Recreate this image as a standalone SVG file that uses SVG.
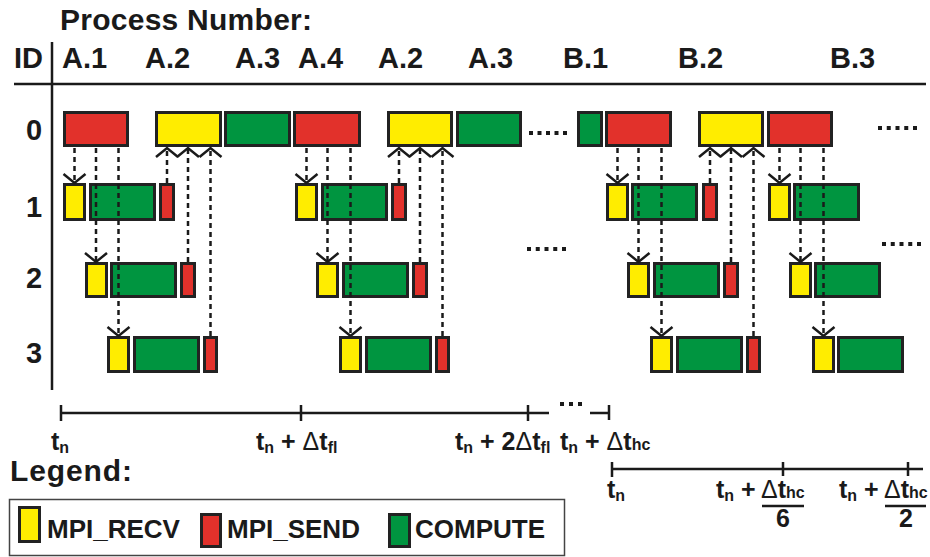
<svg xmlns="http://www.w3.org/2000/svg" width="930" height="557" viewBox="0 0 930 557">
<defs>
<style>
text{font-family:"Liberation Sans",Arial,sans-serif;font-weight:bold;fill:#1a1a1a}
.h{font-size:29px}
.t{font-size:30px}
.lab{font-size:25px}
.sub{font-size:16px}
.d{font-weight:normal}
.leg{font-size:26px}
.box{stroke:#222;stroke-width:3}
.R{fill:#e2312b}.Y{fill:#ffed00}.G{fill:#009540}
.ax{stroke:#1a1a1a;stroke-width:2.5;fill:none}
.dash{stroke:#1a1a1a;stroke-width:2.5;stroke-dasharray:5 4;fill:none;marker-end:url(#chev)}
.dots{stroke:#1a1a1a;stroke-width:4;fill:none}
</style>
<marker id="chev" markerUnits="userSpaceOnUse" markerWidth="14" markerHeight="26" viewBox="-12 -13 14 26" refX="0" refY="0" orient="auto" overflow="visible">
<path d="M-9,-11 L0,0 L-9,11" fill="none" stroke="#1a1a1a" stroke-width="2.5"/>
</marker>
</defs>
<rect width="930" height="557" fill="#ffffff"/>

<g id="header">
<text class="t" x="60" y="30" textLength="252" lengthAdjust="spacing">Process Number:</text>
<text class="h" x="14" y="68">ID</text>
<text class="h" x="62" y="68">A.1</text>
<text class="h" x="145" y="68">A.2</text>
<text class="h" x="235" y="68">A.3</text>
<text class="h" x="298" y="68">A.4</text>
<text class="h" x="378" y="68">A.2</text>
<text class="h" x="468" y="68">A.3</text>
<text class="h" x="563" y="68">B.1</text>
<text class="h" x="678" y="68">B.2</text>
<text class="h" x="830" y="68">B.3</text>
<text class="h" x="26" y="140">0</text>
<text class="h" x="26" y="217">1</text>
<text class="h" x="26" y="288">2</text>
<text class="h" x="26" y="363">3</text>
<line class="ax" x1="52" y1="42" x2="52" y2="390"/>
<line class="ax" x1="14" y1="84" x2="926" y2="84"/>
</g>

<g id="row0">
<g id="r0-A1"><rect class="box R" x="64.5" y="112.5" width="63" height="33"/></g>
<g id="r0-A2"><rect class="box Y" x="156.5" y="112.5" width="64" height="33"/></g>
<g id="r0-A3"><rect class="box G" x="225.5" y="112.5" width="64" height="33"/></g>
<g id="r0-A4"><rect class="box R" x="294.5" y="112.5" width="65" height="33"/></g>
<g id="r0-A2b"><rect class="box Y" x="388.5" y="112.5" width="63" height="33"/></g>
<g id="r0-A3b"><rect class="box G" x="457.5" y="112.5" width="63" height="33"/></g>
<g id="r0-B1"><rect class="box G" x="578.5" y="112.5" width="23" height="33"/></g>
<g id="r0-B1s"><rect class="box R" x="606.5" y="112.5" width="64" height="33"/></g>
<g id="r0-B2"><rect class="box Y" x="699.5" y="112.5" width="63" height="33"/></g>
<g id="r0-B3"><rect class="box R" x="768.5" y="112.5" width="63" height="33"/></g>
</g>

<g id="row1">
<g id="r1-A-recv"><rect class="box Y" x="64.5" y="184.5" width="20" height="35"/></g>
<g id="r1-A-comp"><rect class="box G" x="90.5" y="184.5" width="64" height="35"/></g>
<g id="r1-A-send"><rect class="box R" x="160.5" y="184.5" width="13" height="35"/></g>
<g id="r1-A4-recv"><rect class="box Y" x="296.5" y="184.5" width="20" height="35"/></g>
<g id="r1-A4-comp"><rect class="box G" x="322.5" y="184.5" width="64" height="35"/></g>
<g id="r1-A4-send"><rect class="box R" x="392.5" y="184.5" width="13" height="35"/></g>
<g id="r1-B1-recv"><rect class="box Y" x="607.5" y="184.5" width="20" height="35"/></g>
<g id="r1-B1-comp"><rect class="box G" x="632.5" y="184.5" width="64" height="35"/></g>
<g id="r1-B1-send"><rect class="box R" x="703.5" y="184.5" width="13" height="35"/></g>
<g id="r1-B3-recv"><rect class="box Y" x="769.5" y="184.5" width="20" height="35"/></g>
<g id="r1-B3-comp"><rect class="box G" x="794.5" y="184.5" width="64" height="35"/></g>
</g>

<g id="row2">
<g id="r2-A-recv"><rect class="box Y" x="86.5" y="263.5" width="20" height="33"/></g>
<g id="r2-A-comp"><rect class="box G" x="111.5" y="263.5" width="64" height="33"/></g>
<g id="r2-A-send"><rect class="box R" x="181.5" y="263.5" width="13" height="33"/></g>
<g id="r2-A4-recv"><rect class="box Y" x="317.5" y="263.5" width="20" height="33"/></g>
<g id="r2-A4-comp"><rect class="box G" x="343.5" y="263.5" width="64" height="33"/></g>
<g id="r2-A4-send"><rect class="box R" x="413.5" y="263.5" width="13" height="33"/></g>
<g id="r2-B1-recv"><rect class="box Y" x="628.5" y="263.5" width="20" height="33"/></g>
<g id="r2-B1-comp"><rect class="box G" x="654.5" y="263.5" width="64" height="33"/></g>
<g id="r2-B1-send"><rect class="box R" x="724.5" y="263.5" width="13" height="33"/></g>
<g id="r2-B3-recv"><rect class="box Y" x="790.5" y="263.5" width="20" height="33"/></g>
<g id="r2-B3-comp"><rect class="box G" x="815.5" y="263.5" width="64" height="33"/></g>
</g>

<g id="row3">
<g id="r3-A-recv"><rect class="box Y" x="108.5" y="337.5" width="20" height="34"/></g>
<g id="r3-A-comp"><rect class="box G" x="134.5" y="337.5" width="64" height="34"/></g>
<g id="r3-A-send"><rect class="box R" x="204.5" y="337.5" width="12" height="34"/></g>
<g id="r3-A4-recv"><rect class="box Y" x="340.5" y="337.5" width="20" height="34"/></g>
<g id="r3-A4-comp"><rect class="box G" x="366.5" y="337.5" width="64" height="34"/></g>
<g id="r3-A4-send"><rect class="box R" x="436.5" y="337.5" width="12" height="34"/></g>
<g id="r3-B1-recv"><rect class="box Y" x="651.5" y="337.5" width="20" height="34"/></g>
<g id="r3-B1-comp"><rect class="box G" x="677.5" y="337.5" width="64" height="34"/></g>
<g id="r3-B1-send"><rect class="box R" x="747.5" y="337.5" width="12" height="34"/></g>
<g id="r3-B3-recv"><rect class="box Y" x="813.5" y="337.5" width="20" height="34"/></g>
<g id="r3-B3-comp"><rect class="box G" x="838.5" y="337.5" width="64" height="34"/></g>
</g>

<g id="ellipses">
<line class="dots" x1="529" y1="133" x2="567" y2="133" stroke-dasharray="4 4.5"/>
<line class="dots" x1="878" y1="128" x2="917" y2="128" stroke-dasharray="4 4.75"/>
<line class="dots" x1="527" y1="249" x2="566" y2="249" stroke-dasharray="4 4.75"/>
<line class="dots" x1="882" y1="244" x2="921" y2="244" stroke-dasharray="4 4.75"/>
</g>

<g id="connectors">
<line class="dash" x1="74.5" y1="148" x2="74.5" y2="183"/>
<line class="dash" x1="96" y1="148" x2="96" y2="262"/>
<line class="dash" x1="118.5" y1="148" x2="118.5" y2="336"/>
<line class="dash" x1="167" y1="183" x2="167" y2="148"/>
<line class="dash" x1="188" y1="262" x2="188" y2="148"/>
<line class="dash" x1="210.5" y1="336" x2="210.5" y2="148"/>

<line class="dash" x1="306.5" y1="148" x2="306.5" y2="183"/>
<line class="dash" x1="327.5" y1="148" x2="327.5" y2="262"/>
<line class="dash" x1="350.5" y1="148" x2="350.5" y2="336"/>
<line class="dash" x1="399" y1="183" x2="399" y2="148"/>
<line class="dash" x1="420" y1="262" x2="420" y2="148"/>
<line class="dash" x1="442.5" y1="336" x2="442.5" y2="148"/>

<line class="dash" x1="617.5" y1="148" x2="617.5" y2="183"/>
<line class="dash" x1="638.5" y1="148" x2="638.5" y2="262"/>
<line class="dash" x1="661.5" y1="148" x2="661.5" y2="336"/>
<line class="dash" x1="710" y1="183" x2="710" y2="148"/>
<line class="dash" x1="731" y1="262" x2="731" y2="148"/>
<line class="dash" x1="753.5" y1="336" x2="753.5" y2="148"/>

<line class="dash" x1="779.5" y1="148" x2="779.5" y2="183"/>
<line class="dash" x1="800.5" y1="148" x2="800.5" y2="262"/>
<line class="dash" x1="823.5" y1="148" x2="823.5" y2="336"/>
</g>

<g id="timeaxis-fl">
<path class="ax" d="M61,413 H549 M61,405 V421 M301,405 V421 M528,405 V421 M590,413 H609 M609,405 V420"/>
<line class="dots" x1="560" y1="404" x2="582" y2="404" stroke-dasharray="4 5"/>
<text class="lab" x="51" y="450">t<tspan class="sub" dy="3">n</tspan></text>
<text class="lab" x="256" y="450">t<tspan class="sub" dy="3">n</tspan><tspan dy="-3"> + </tspan><tspan class="d">Δ</tspan>t<tspan class="sub" dy="3">fl</tspan></text>
<text class="lab" x="455" y="450">t<tspan class="sub" dy="3">n</tspan><tspan dy="-3"> + 2</tspan><tspan class="d">Δ</tspan>t<tspan class="sub" dy="3">fl</tspan></text>
<text class="lab" x="560" y="450">t<tspan class="sub" dy="3">n</tspan><tspan dy="-3"> + </tspan><tspan class="d">Δ</tspan>t<tspan class="sub">hc</tspan></text>
</g>

<g id="timeaxis-hc">
<path class="ax" d="M612,469 H923 M612,462 V477 M783,462 V476 M908,462 V476"/>
<text class="lab" x="607" y="498">t<tspan class="sub" dy="3">n</tspan></text>
<text class="lab" x="716" y="498">t<tspan class="sub" dy="3">n</tspan><tspan dy="-3"> +</tspan></text>
<text class="lab" x="761" y="498"><tspan class="d">Δ</tspan>t<tspan class="sub">hc</tspan></text>
<line class="ax" x1="762" y1="506" x2="804" y2="506" stroke-width="2"/>
<text class="lab" x="783" y="527" text-anchor="middle">6</text>
<text class="lab" x="839" y="498">t<tspan class="sub" dy="3">n</tspan><tspan dy="-3"> +</tspan></text>
<text class="lab" x="884" y="498"><tspan class="d">Δ</tspan>t<tspan class="sub">hc</tspan></text>
<line class="ax" x1="885" y1="506" x2="926" y2="506" stroke-width="2"/>
<text class="lab" x="906" y="527" text-anchor="middle">2</text>
</g>

<g id="legend">
<text class="t" x="10" y="481" textLength="122" lengthAdjust="spacing">Legend:</text>
<rect x="9.5" y="499.5" width="555" height="56" fill="none" stroke="#444" stroke-width="1.5"/>
<rect class="box Y" x="19.5" y="507.5" width="20" height="34"/>
<text class="leg" x="47" y="538">MPI_RECV</text>
<rect class="box R" x="201.5" y="514.5" width="19" height="32"/>
<text class="leg" x="227" y="538">MPI_SEND</text>
<rect class="box G" x="389.5" y="514.5" width="20" height="32"/>
<text class="leg" x="415" y="538">COMPUTE</text>
</g>
</svg>
